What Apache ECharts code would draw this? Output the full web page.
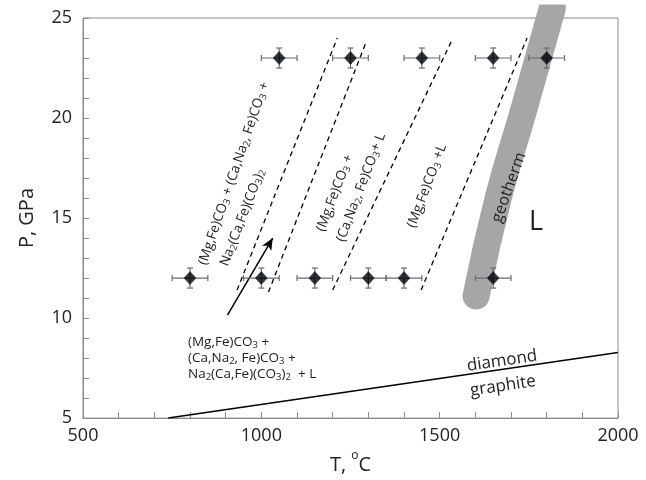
<!DOCTYPE html>
<html>
<head>
<meta charset="utf-8">
<script src="https://cdn.jsdelivr.net/npm/echarts@6/dist/echarts.min.js"></script>
<style>
html,body{margin:0;padding:0;background:#fff;}
#chart{width:646px;height:480px;}
</style>
</head>
<body>
<div id="chart"></div>
<script>
// ---- data ----
const expT = [1050, 1250, 1450, 1650, 1800, 800, 1000, 1150, 1300, 1400, 1650];
const expP = [23, 23, 23, 23, 23, 12, 12, 12, 12, 12, 12];
const errT = [50, 50, 50, 50, 50, 50, 50, 50, 50, 50, 50];
const errP = [0.5, 0.5, 0.5, 0.5, 0.5, 0.5, 0.5, 0.5, 0.5, 0.5, 0.5];

const boundary1 = [[932, 11.4], [1213, 24.0]];
const boundary2 = [[1020, 11.3], [1295, 23.85]];
const boundary3 = [[1200, 11.4], [1532, 23.8]];
const boundary4 = [[1448, 11.4], [1745, 24.0]];
const diamondGraphite = [[739, 5], [2000, 8.28]];
const geotherm = [[1602, 11.1], [1664, 16], [1734, 20.3], [1816, 25.5]];
const arrowFrom = [905, 10.15];
const arrowTo = [1032, 14.0];

const xTicks = [500, 1000, 1500, 2000];
const yTicks = [5, 10, 15, 20, 25];

const FONT = '"Open Sans", "DejaVu Sans", sans-serif';
const sub = { fontSize: 9.5, fontFamily: FONT, color: '#222', verticalAlign: 'bottom', lineHeight: 8 };
const base = { fontSize: 13.5, fontFamily: FONT, color: '#222', lineHeight: 16 };

function rtext(x, y, text, rotDeg, opts) {
  opts = opts || {};
  return {
    type: 'text', x: x, y: y, rotation: rotDeg * Math.PI / 180, z: 100,
    style: Object.assign({
      text: text, fontSize: 13.5, fontFamily: FONT, fill: '#222',
      align: 'center', verticalAlign: 'middle',
      rich: { s: sub, b: base }
    }, opts)
  };
}

const errData = expT.map((t, i) => [t, expP[i], errT[i], errP[i]]);
const ptData = expT.map((t, i) => [t, expP[i]]);

function dashed(data) {
  return {
    type: 'line', data: data, symbol: 'none', silent: true,
    lineStyle: { color: '#000', width: 1.3, type: [5, 4] }, z: 3
  };
}

const chart = echarts.init(document.getElementById('chart'));
chart.setOption({
  animation: false,
  backgroundColor: '#fff',
  grid: { left: 83, right: 28, top: 18, bottom: 54, show: true, borderColor: '#8c8c8c', borderWidth: 1 },
  xAxis: {
    type: 'value', min: xTicks[0], max: xTicks[xTicks.length - 1], interval: 500,
    name: 'T, {sup|o}C', nameLocation: 'middle', nameGap: 28,
    nameTextStyle: { fontSize: 20, fontFamily: FONT, color: '#222',
      rich: { sup: { fontSize: 12, fontFamily: FONT, color: '#222', verticalAlign: 'top', lineHeight: 30 } } },
    axisLine: { show: true, lineStyle: { color: '#8c8c8c', width: 1 } },
    axisTick: { show: true, inside: true, length: 6, lineStyle: { color: '#8c8c8c' } },
    minorTick: { show: true, splitNumber: 5, length: 6, lineStyle: { color: '#8c8c8c' } },
    axisLabel: { fontSize: 18, fontFamily: FONT, color: '#222', margin: 9, formatter: v => String(v) },
    splitLine: { show: false }
  },
  yAxis: {
    type: 'value', min: yTicks[0], max: yTicks[yTicks.length - 1], interval: 5,
    name: 'P, GPa', nameLocation: 'middle', nameGap: 46, nameRotate: 90,
    nameTextStyle: { fontSize: 20, fontFamily: FONT, color: '#222' },
    axisLine: { show: true, lineStyle: { color: '#8c8c8c', width: 1 } },
    axisTick: { show: true, inside: true, length: 6, lineStyle: { color: '#8c8c8c' } },
    minorTick: { show: true, splitNumber: 5, length: 6, lineStyle: { color: '#8c8c8c' } },
    axisLabel: { fontSize: 18, fontFamily: FONT, color: '#222', margin: 11, formatter: v => String(v) },
    splitLine: { show: false }
  },
  series: [
    {
      type: 'line', data: geotherm, symbol: 'none', smooth: true, silent: true, z: 1,
      lineStyle: { color: '#a6a6a6', width: 27, cap: 'round', join: 'round' }
    },
    dashed(boundary1), dashed(boundary2), dashed(boundary3), dashed(boundary4),
    {
      type: 'line', data: diamondGraphite, symbol: 'none', silent: true, z: 3,
      lineStyle: { color: '#000', width: 1.5 }
    },
    {
      type: 'line', data: [], symbol: 'none', silent: true,
      markLine: {
        silent: true, symbol: ['none', 'arrow'], symbolSize: [8, 12],
        label: { show: false },
        lineStyle: { color: '#000', width: 1.5, type: 'solid' },
        data: [[{ coord: arrowFrom }, { coord: arrowTo }]]
      }
    },
    {
      type: 'custom', data: errData, z: 5, silent: true,
      renderItem: function (params, api) {
        const x = api.value(0), y = api.value(1), ex = api.value(2), ey = api.value(3);
        const l = api.coord([x - ex, y]), r = api.coord([x + ex, y]);
        const t = api.coord([x, y + ey]), b = api.coord([x, y - ey]);
        const cap = 3;
        const st = { stroke: '#6b6b6b', lineWidth: 1.2 };
        const seg = (x1, y1, x2, y2) => ({ type: 'line', shape: { x1, y1, x2, y2 }, style: st });
        return {
          type: 'group', children: [
            seg(l[0], l[1], r[0], r[1]),
            seg(l[0], l[1] - cap, l[0], l[1] + cap),
            seg(r[0], r[1] - cap, r[0], r[1] + cap),
            seg(t[0], t[1], b[0], b[1]),
            seg(t[0] - cap, t[1], t[0] + cap, t[1]),
            seg(b[0] - cap, b[1], b[0] + cap, b[1])
          ]
        };
      }
    },
    {
      type: 'scatter', data: ptData, symbol: 'diamond', symbolSize: [12, 13], z: 6,
      itemStyle: { color: '#000', borderColor: '#1f3864', borderWidth: 0.8 }
    }
  ],
  graphic: [
    rtext(234, 173.5, '{b|(Mg,Fe)CO}{s|3}{b| + (Ca,Na}{s|2}{b|, Fe)CO}{s|3}{b| +}', 71),
    rtext(242.5, 217.5, '{b|Na}{s|2}{b|(Ca,Fe)(CO}{s|3}{b|)}{s|2}', 69),
    rtext(335, 193, '{b|(Mg,Fe)CO}{s|3}{b| +}', 69),
    rtext(361, 187.5, '{b|(Ca,Na}{s|2}{b|, Fe)CO}{s|3}{b|+ L}', 69),
    rtext(427, 186, '{b|(Mg,Fe)CO}{s|3}{b| +L}', 69),
    rtext(509, 187.5, 'geotherm', 70, { fontSize: 16 }),
    rtext(536, 222, 'L', 0, { fontSize: 27 }),
    rtext(502, 361, 'diamond', 8.5, { fontSize: 17 }),
    rtext(503, 386, 'graphite', 8.5, { fontSize: 17 }),
    {
      type: 'text', x: 188, y: 334, z: 100,
      style: {
        text: '{b|(Mg,Fe)CO}{s|3}{b| +}\n{b|(Ca,Na}{s|2}{b|, Fe)CO}{s|3}{b| +}\n{b|Na}{s|2}{b|(Ca,Fe)(CO}{s|3}{b|)}{s|2}{b|  + L}',
        fontSize: 13.5, fontFamily: FONT, fill: '#222', align: 'left', verticalAlign: 'top',
        rich: { s: sub, b: base }
      }
    }
  ]
});
</script>
</body>
</html>
